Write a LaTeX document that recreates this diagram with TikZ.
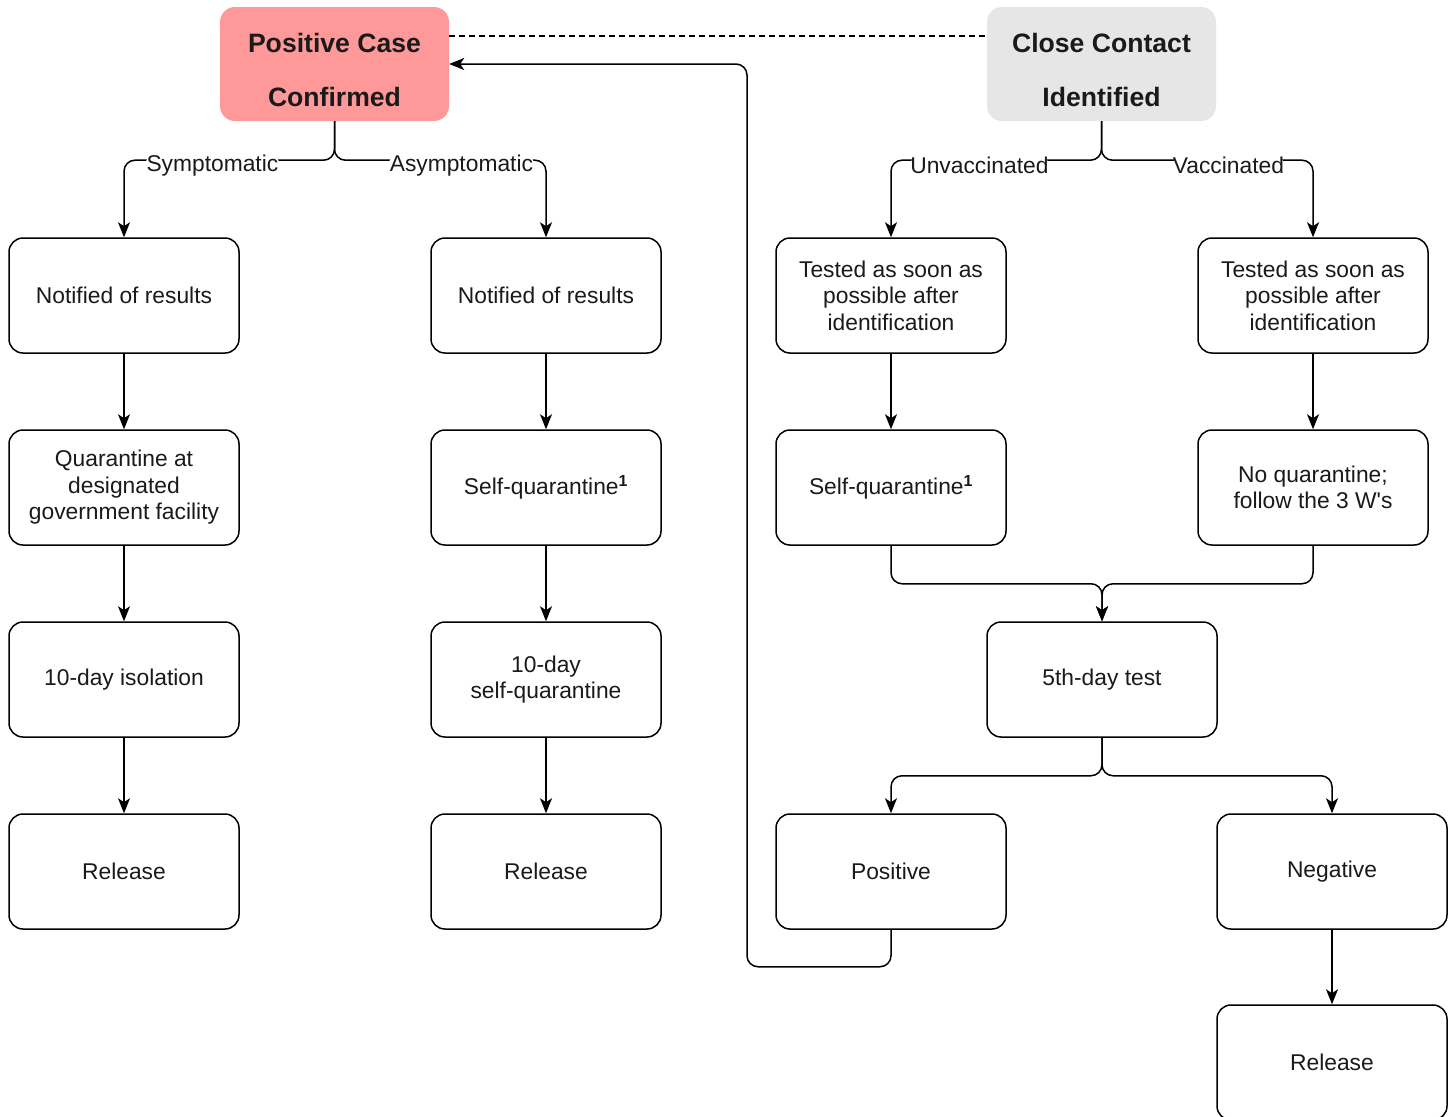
\documentclass[tikz,border=0pt]{standalone}
\usepackage{fontspec}
\setmainfont{Liberation Sans}
\usetikzlibrary{arrows.meta}
\definecolor{pinkfill}{HTML}{FF9999}
\definecolor{grayfill}{HTML}{E6E6E6}
\definecolor{txt}{HTML}{1A1A1A}
\begin{document}
\begin{tikzpicture}[x=1pt,y=-1pt,
  box/.style={draw, line width=1.5pt, rounded corners=14pt, fill=white,
    minimum width=230pt, minimum height=115pt, align=center, inner sep=0pt,
    text=txt, font=\fontsize{22.8}{26.5}\selectfont},
  titlebox/.style={rounded corners=15pt, minimum width=229pt, minimum height=114pt, inner sep=0pt},
  titletext/.style={align=center, inner sep=0pt, text=txt, font=\fontsize{26.6}{54}\selectfont\bfseries},
  conn/.style={line width=1.5pt, rounded corners=11pt},
  arr/.style={conn, -{Stealth[length=15pt,width=12pt,inset=4pt]}},
  lbl/.style={fill=white, inner sep=1pt, text=txt, font=\fontsize{22.8}{26}\selectfont}]
\useasboundingbox (0,0) rectangle (1452,1117);

% title nodes
\node[titlebox, fill=pinkfill] (pc) at (334.5,64) {};
\node[titletext] (pct) at ([yshift=-6pt]pc.center) {Positive Case\\Confirmed};
\node[titlebox, fill=grayfill] (cc) at (1101.5,64) {};
\node[titletext] (cct) at ([yshift=-6pt]cc.center) {Close Contact\\Identified};

% column 1
\node[box] (a1) at (124,295.5) {Notified of results};
\node[box] (a2) at (124,487.5) {Quarantine at\\designated\\government facility};
\node[box] (a3) at (124,679.5) {10-day isolation};
\node[box] (a4) at (124,871.5) {Release};

% column 2
\node[box] (b1) at (546,295.5) {Notified of results};
\node[box] (b2) at (546,487.5) {Self-quarantine\textsuperscript{\bfseries 1}};
\node[box] (b3) at (546,679.5) {10-day\\self-quarantine};
\node[box] (b4) at (546,871.5) {Release};

% column 3
\node[box] (c1) at (891,295.5) {Tested as soon as\\possible after\\identification};
\node[box] (c2) at (891,487.5) {Self-quarantine\textsuperscript{\bfseries 1}};

% column 4
\node[box] (d1) at (1313,295.5) {Tested as soon as\\possible after\\identification};
\node[box] (d2) at (1313,487.5) {No quarantine;\\follow the 3 W\textquotesingle s};

% lower part
\node[box] (t5) at (1102,679.5) {5th-day test};
\node[box] (ps) at (891,871.5) {Positive};
\node[box] (ng) at (1332,871.5) {Negative};
\node[box] (rl) at (1332,1062.5) {Release};

% dashed link between titles
\draw[line width=1.5pt, dash pattern=on 6pt off 4pt] (pc.east |- 0,36) -- (cc.west |- 0,36);

% branches from titles
\draw[arr] (pc.south) -- ++(0,39) -| node[lbl,pos=0.29,yshift=-5pt]{Symptomatic} (a1.north);
\draw[arr] (pc.south) -- ++(0,39) -| node[lbl,pos=0.3,yshift=-5pt]{Asymptomatic} (b1.north);
\draw[arr] (cc.south) -- ++(0,39) -| node[lbl,pos=0.29,yshift=-5pt]{Unvaccinated} (c1.north);
\draw[arr] (cc.south) -- ++(0,39) -| node[lbl,pos=0.3,yshift=-5pt]{Vaccinated} (d1.north);

% vertical chains
\draw[arr] (a1) -- (a2);
\draw[arr] (a2) -- (a3);
\draw[arr] (a3) -- (a4);
\draw[arr] (b1) -- (b2);
\draw[arr] (b2) -- (b3);
\draw[arr] (b3) -- (b4);
\draw[arr] (c1) -- (c2);
\draw[arr] (d1) -- (d2);
\draw[arr] (ng) -- (rl);

% merge into 5th-day test
\draw[arr] (c2.south) -- ++(0,38) -| (t5.north);
\draw[arr] (d2.south) -- ++(0,38) -| (t5.north);

% split from 5th-day test
\draw[arr] (t5.south) -- ++(0,38) -| (ps.north);
\draw[arr] (t5.south) -- ++(0,38) -| (ng.north);

% positive loops back
\coordinate (lp) at (747,965);
\draw[arr] (ps.south) -- ++(0,37) -| (lp |- pc.east) -- (pc.east);
\end{tikzpicture}
\end{document}
